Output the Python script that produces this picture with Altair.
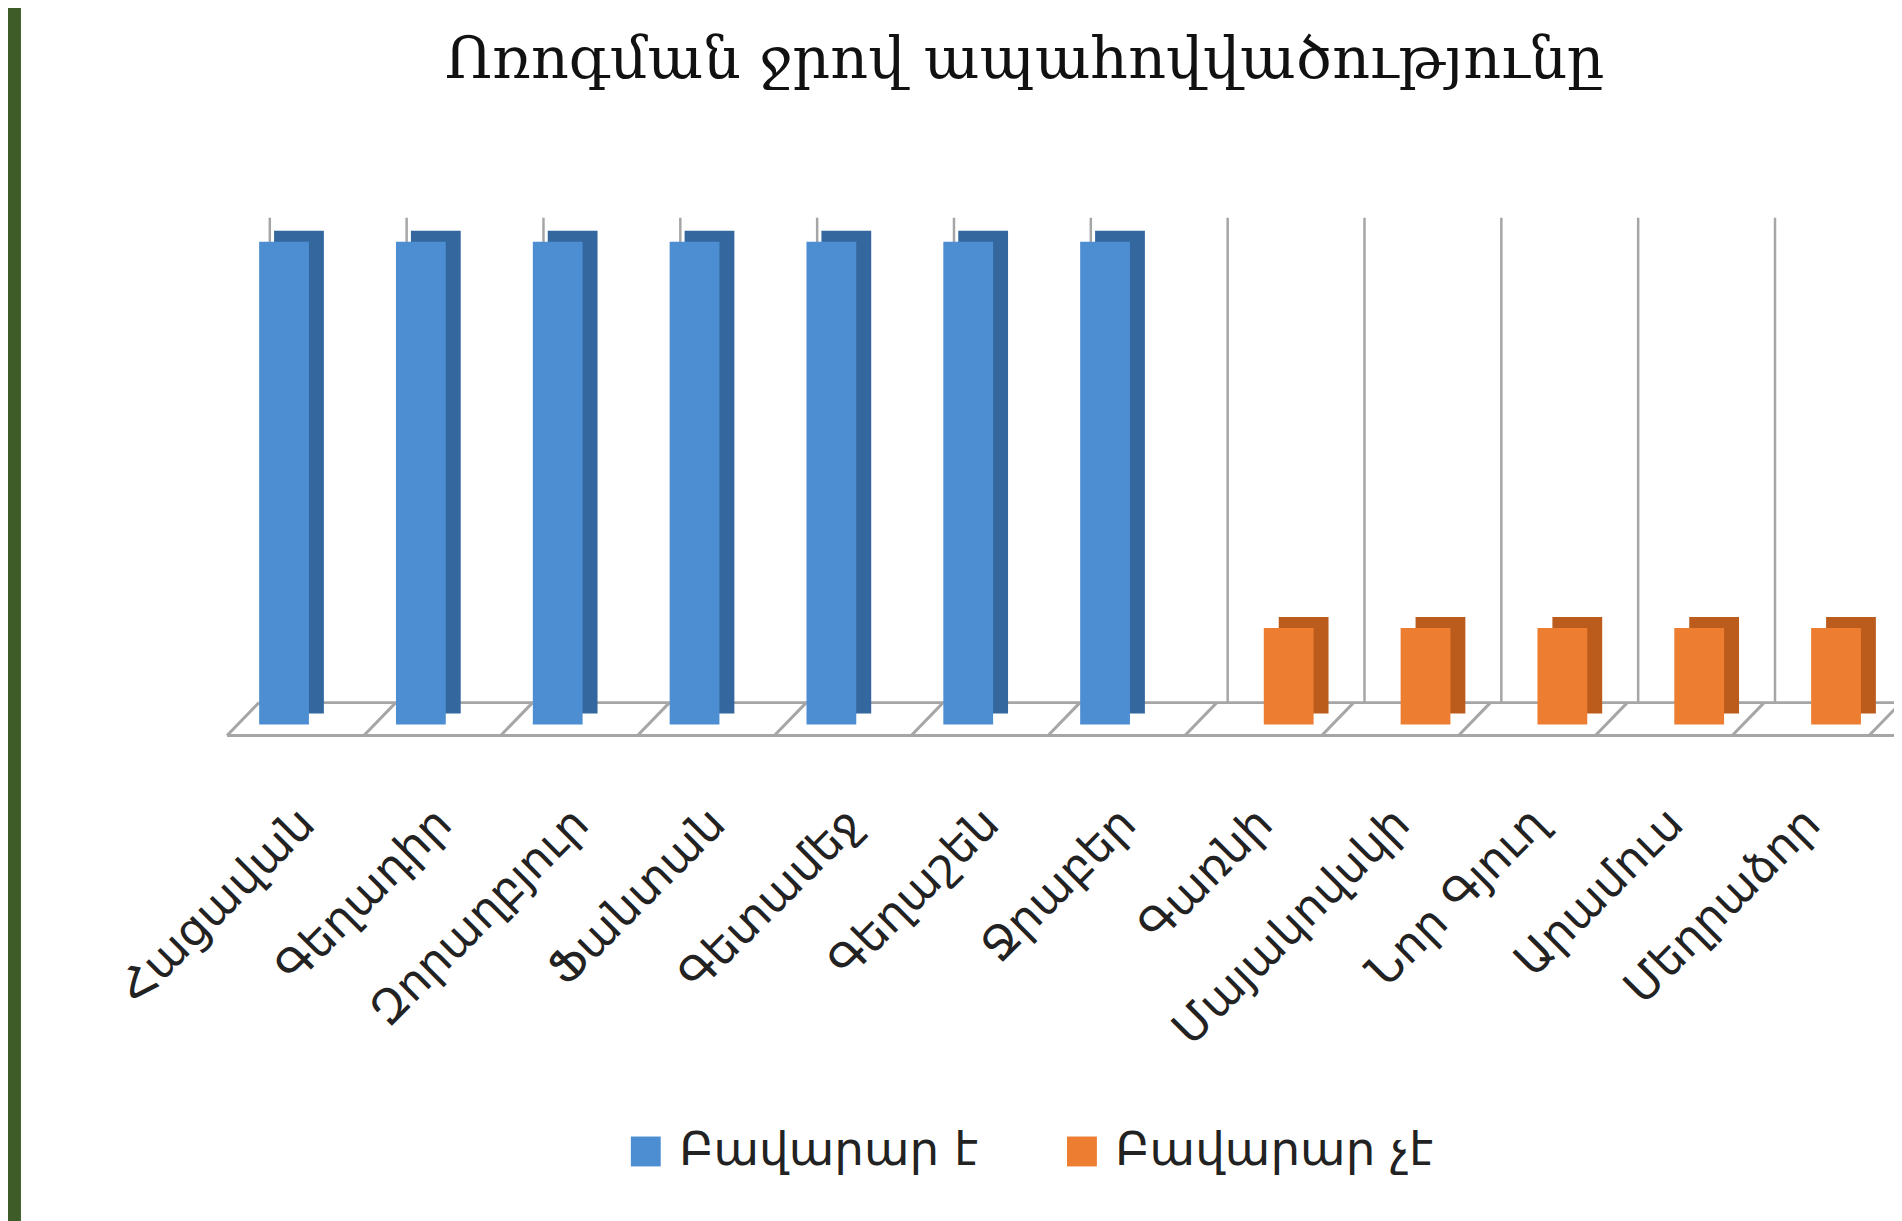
import altair as alt
import pandas as pd

title_text = "Ոռոգման ջրով ապահովվածությունը"
villages = ["Հացավան", "Գեղադիր", "Զորաղբյուր", "Ֆանտան", "Գետամեջ", "Գեղաշեն", "Ջրաբեր",
            "Գառնի", "Մայակովսկի", "Նոր Գյուղ", "Արամուս", "Մեղրաձոր"]
series_names = ["Բավարար է", "Բավարար չէ"]
enough_values = [1, 1, 1, 1, 1, 1, 1, None, None, None, None, None]
not_enough_values = [None, None, None, None, None, None, None, 0.2, 0.2, 0.2, 0.2, 0.2]

rows = []
for v, a, b in zip(villages, enough_values, not_enough_values):
    if a is not None:
        rows.append({"village": v, "series": series_names[0], "value": a})
    if b is not None:
        rows.append({"village": v, "series": series_names[1], "value": b})
df = pd.DataFrame(rows)
cat_df = pd.DataFrame({"village": villages})
last_df = pd.DataFrame({"village": villages[-1:]})
one = pd.DataFrame({"k": [0]})
title_df = pd.DataFrame({"title": [title_text]})

W, H = 1649, 509
BLUE, BLUE_DARK = "#4d8ed2", "#33679e"
ORANGE, ORANGE_DARK = "#ed7d31", "#bc5c1c"
GRID = "#a6a6a6"

x_scale = alt.Scale(domain=villages, paddingInner=0, paddingOuter=0)
y_scale = alt.Scale(domain=[0, 1.05])
x_axis = alt.Axis(title=None, labelAngle=-45, labelAlign="right", labelBaseline="middle",
                  labelFont="DejaVu Sans", labelFontSize=46, labelColor="#222222",
                  labelPadding=92, labelLimit=0, domain=False, ticks=False, grid=False, zindex=2)


def X(bp=0.5):
    return alt.X("village:N", scale=x_scale, axis=x_axis, sort=villages, bandPosition=bp)


def Yd(v):
    return alt.YDatum(v, scale=y_scale, axis=None)


bg = alt.Chart(one).mark_rect(color="white").encode(
    x=alt.value(-219), x2=alt.value(W + 40), y=alt.value(-230), y2=alt.value(H + 520))

title = alt.Chart(title_df).mark_text(font="DejaVu Serif", fontSize=59, color="#111111",
                                      align="center", baseline="alphabetic").encode(
    text="title:N", x=alt.value(789), y=alt.value(-140))

grid = alt.Chart(cat_df).mark_rule(color=GRID, strokeWidth=2.5, y2Offset=-22).encode(
    x=X(0.225), y=Yd(1.05), y2=alt.Y2Datum(0))

floor_back = alt.Chart(one).mark_rule(color=GRID, strokeWidth=3, yOffset=-22).encode(
    x=alt.value(20), x2=alt.value(W + 40), y=Yd(0))
floor_front = alt.Chart(one).mark_rule(color=GRID, strokeWidth=3, yOffset=11).encode(
    x=alt.value(-12), x2=alt.value(W + 40), y=Yd(0))

diag = alt.Chart(cat_df).mark_rule(color=GRID, strokeWidth=3, xOffset=-12, x2Offset=20,
                                   yOffset=11, y2Offset=-22).encode(
    x=X(0), x2=alt.X2("village:N", bandPosition=0), y=Yd(0), y2=alt.Y2Datum(0))
diag_last = alt.Chart(last_df).mark_rule(color=GRID, strokeWidth=3, xOffset=-12, x2Offset=20,
                                         yOffset=11, y2Offset=-22).encode(
    x=X(1), x2=alt.X2("village:N", bandPosition=1), y=Yd(0), y2=alt.Y2Datum(0))

color = alt.Color("series:N", scale=alt.Scale(domain=series_names, range=[BLUE, ORANGE]),
                  legend=alt.Legend(title=None, orient="none", legendX=385, legendY=914,
                                    direction="horizontal", symbolType="square",
                                    symbolSize=900, symbolStrokeWidth=0, labelFont="DejaVu Sans",
                                    labelFontSize=47, labelColor="#222222", labelLimit=0,
                                    labelOffset=10, columnPadding=80, padding=0, zindex=2))

yv = alt.Y("value:Q", scale=y_scale, axis=None)
blue_df = df[df["series"] == series_names[0]]
orange_df = df[df["series"] == series_names[1]]

blue_back = alt.Chart(blue_df).mark_bar(color=BLUE_DARK, width=50, xOffset=-8.5,
                                        yOffset=-11, y2Offset=-11).encode(x=X(), y=yv)
blue_front = alt.Chart(blue_df).mark_bar(width=50, xOffset=-23.5).encode(x=X(), y=yv, color=color)
orange_back = alt.Chart(orange_df).mark_bar(color=ORANGE_DARK, width=50, xOffset=38.5,
                                            yOffset=-11, y2Offset=-11).encode(x=X(), y=yv)
orange_front = alt.Chart(orange_df).mark_bar(width=50, xOffset=23.5).encode(x=X(), y=yv, color=color)

chart = alt.layer(bg, title, grid, floor_back, floor_front, diag, diag_last,
                  blue_back, blue_front, orange_back, orange_front).properties(
    width=W, height=H,
    padding={"left": 232, "top": 208, "right": 13, "bottom": 496},
    autosize=alt.AutoSizeParams(type="none"),
    background="#3d5c28",
).configure_view(stroke=None)

chart.save("out.html", embed_options={"renderer": "svg", "actions": False})
